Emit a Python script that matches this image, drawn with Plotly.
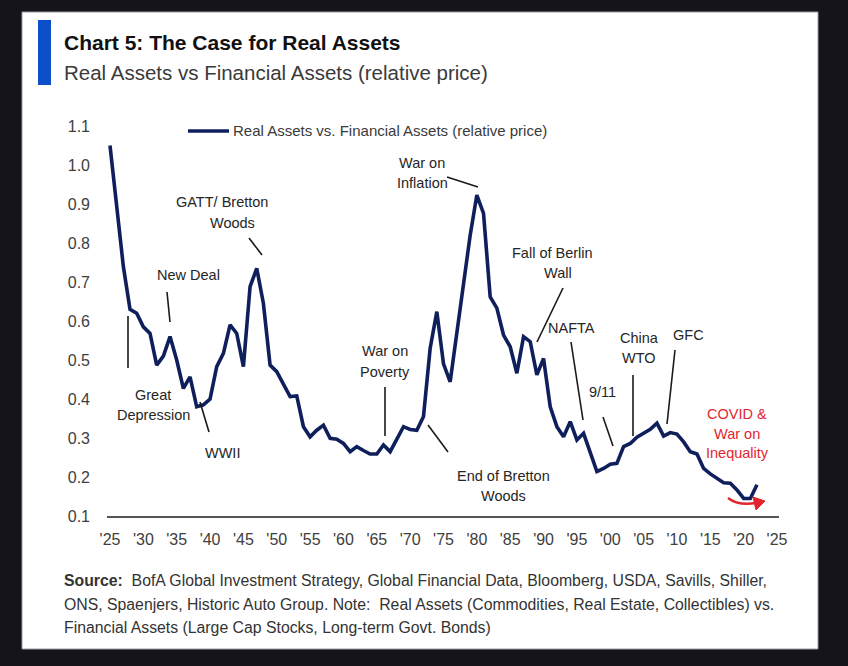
import plotly.graph_objects as go

# ---------------- data ----------------
years = list(range(1925, 2023))
relative_price = [
    1.05, 0.90, 0.74, 0.63, 0.62, 0.585, 0.568, 0.487, 0.51, 0.56,
    0.50, 0.427, 0.457, 0.38, 0.385, 0.40, 0.483, 0.517, 0.59, 0.568,
    0.483, 0.688, 0.735, 0.645, 0.487, 0.47, 0.44, 0.406, 0.408, 0.329,
    0.303, 0.32, 0.333, 0.299, 0.297, 0.286, 0.265, 0.278, 0.268, 0.259,
    0.259, 0.282, 0.265, 0.295, 0.329, 0.322, 0.32, 0.355, 0.53, 0.624,
    0.49, 0.444, 0.57, 0.69, 0.82, 0.923, 0.876, 0.662, 0.633, 0.564,
    0.534, 0.466, 0.56, 0.547, 0.462, 0.504, 0.38, 0.329, 0.303, 0.342,
    0.295, 0.312, 0.265, 0.214, 0.222, 0.233, 0.235, 0.278, 0.286, 0.302,
    0.312, 0.322, 0.338, 0.305, 0.314, 0.31, 0.29, 0.265, 0.259, 0.222,
    0.208, 0.197, 0.185, 0.184, 0.167, 0.145, 0.145, 0.18,
]
series_name = "Real Assets vs. Financial Assets (relative price)"
x_tick_years = list(range(1925, 2030, 5))
x_tick_labels = ["'" + str(y)[-2:] for y in x_tick_years]
y_tick_values = [0.1, 0.2, 0.3, 0.4, 0.5, 0.6, 0.7, 0.8, 0.9, 1.0, 1.1]
y_tick_labels = ["0.1", "0.2", "0.3", "0.4", "0.5", "0.6", "0.7", "0.8", "0.9", "1.0", "1.1"]

# ---------------- layout helpers ----------------
W, H = 848, 666
L, R, T, B = 107, 779, 126, 516
BG = "#15141b"


def px(x):
    return (x - L) / (R - L)


def py(y):
    return (B - y) / (B - T)


FONT = "Liberation Sans, Arial, sans-serif"
TXT = "#262626"
NAVY = "#0f1f5c"
RED = "#e3262d"

fig = go.Figure()
fig.add_trace(go.Scatter(
    x=years, y=relative_price, mode="lines", name=series_name,
    line=dict(color=NAVY, width=3.6), showlegend=False,
))

shapes = []
# white panel
shapes.append(dict(type="rect", xref="paper", yref="paper", layer="below",
                   x0=px(22), x1=px(818), y0=py(649), y1=py(12),
                   fillcolor="white", line=dict(color="#9a9aa2", width=1)))
# blue title bar
shapes.append(dict(type="rect", xref="paper", yref="paper", layer="below",
                   x0=px(38), x1=px(51), y0=py(85), y1=py(20),
                   fillcolor="#0b50c8", line=dict(width=0)))
# legend sample line
shapes.append(dict(type="line", xref="paper", yref="paper",
                   x0=px(188), x1=px(229), y0=py(131), y1=py(131),
                   line=dict(color=NAVY, width=3.6)))

leaders = [
    (128, 316, 128, 368),   # Great Depression
    (167, 292, 170, 322),   # New Deal
    (249, 238, 262, 255),   # GATT
    (200, 402, 209, 432),   # WWII
    (385, 387, 385, 436),   # War on Poverty
    (447, 177, 478, 187),   # War on Inflation
    (428, 425, 448, 452),   # End of Bretton Woods
    (563, 288, 537, 342),   # Fall of Berlin Wall
    (571, 342, 583, 420),   # NAFTA
    (603, 417, 613, 446),   # 9/11
    (633, 375, 633, 436),   # China WTO
    (675, 350, 667, 424),   # GFC
]
for x0, y0, x1, y1 in leaders:
    shapes.append(dict(type="line", xref="paper", yref="paper",
                       x0=px(x0), y0=py(y0), x1=px(x1), y1=py(y1),
                       line=dict(color="#1a1a1a", width=1.6)))

# red curved arrow
shapes.append(dict(type="path", xref="paper", yref="paper",
                   path=f"M {px(728)},{py(498)} Q {px(738)},{py(506)} {px(756)},{py(503)}",
                   line=dict(color=RED, width=2.4)))
shapes.append(dict(type="path", xref="paper", yref="paper",
                   path=f"M {px(753)},{py(497)} L {px(765)},{py(501)} L {px(756)},{py(510)} Z",
                   fillcolor=RED, line=dict(color=RED, width=1)))

annotations = []


def note(text, x, y, size=15, color=TXT, xanchor="center"):
    annotations.append(dict(text=text, x=px(x), y=py(y), xref="paper", yref="paper",
                            xanchor=xanchor, yanchor="middle", showarrow=False,
                            font=dict(family=FONT, size=size, color=color)))


note("<b>Chart 5: The Case for Real Assets</b>", 62, 42, size=21, color="#111111", xanchor="left")
note("Real Assets vs Financial Assets (relative price)", 62, 72, size=20.5, color="#3a3a3a", xanchor="left")
note(series_name, 231, 131, size=15, color="#3a3a3a", xanchor="left")

labels = [
    ("Great", 153, 395), ("Depression", 153, 415),
    ("New Deal", 188, 275),
    ("GATT/ Bretton", 222, 202), ("Woods", 232, 223),
    ("WWII", 222, 453),
    ("War on", 385, 351), ("Poverty", 385, 372),
    ("War on", 422, 163), ("Inflation", 422, 183),
    ("End of Bretton", 503, 476), ("Woods", 503, 496),
    ("Fall of Berlin", 552, 253), ("Wall", 558, 273),
    ("NAFTA", 571, 328),
    ("9/11", 602, 392),
    ("China", 639, 338), ("WTO", 639, 358),
    ("GFC", 688, 335),
]
for t, x, y in labels:
    note(t, x, y, size=14.5)
for t, y in [("COVID &", 414), ("War on", 434), ("Inequality", 453)]:
    note(t, 737, y, size=14.5, color=RED)

source_lines = [
    ("<b>Source:</b>  BofA Global Investment Strategy, Global Financial Data, Bloomberg, USDA, Savills, Shiller,", 580),
    ("ONS, Spaenjers, Historic Auto Group. Note:  Real Assets (Commodities, Real Estate, Collectibles) vs.", 604),
    ("Financial Assets (Large Cap Stocks, Long-term Govt. Bonds)", 627),
]
for t, y in source_lines:
    note(t, 62, y, size=15.8, color="#333333", xanchor="left")

fig.update_layout(
    width=W, height=H,
    margin=dict(l=L, r=W - R, t=T, b=H - B, pad=0),
    paper_bgcolor=BG, plot_bgcolor="rgba(0,0,0,0)",
    shapes=shapes, annotations=annotations, showlegend=False,
    font=dict(family=FONT, color="#404040", size=15),
)
fig.update_xaxes(range=[1924.55, 2025.3], tickvals=x_tick_years, ticktext=x_tick_labels,
                 showgrid=False, zeroline=False, showline=True, linecolor="#555555", linewidth=2,
                 ticks="", ticklabelstandoff=8, tickfont=dict(size=16, color="#404040"))
fig.update_yaxes(range=[0.1, 1.1], tickvals=y_tick_values, ticktext=y_tick_labels,
                 showgrid=False, zeroline=False, showline=False, ticks="",
                 ticklabelstandoff=16, tickfont=dict(size=16, color="#404040"))

fig.write_html(
    "out.html",
    config={"displayModeBar": False},
    post_script="document.body.style.margin='0';document.body.style.background='" + BG + "';",
)
